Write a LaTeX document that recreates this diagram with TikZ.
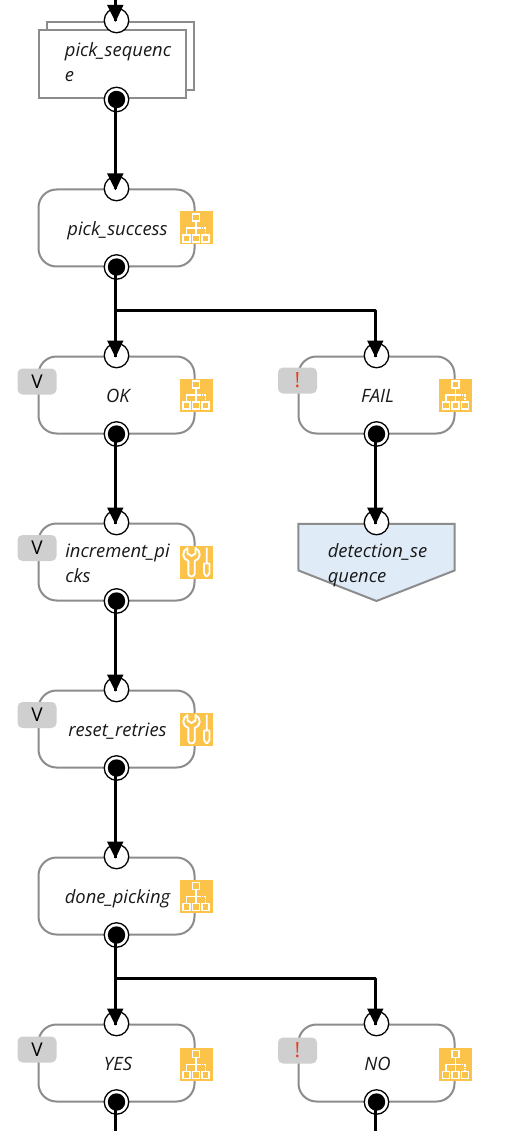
\documentclass[tikz,border=0pt]{standalone}
\usepackage{fontspec}
\setmainfont{Open Sans}
\definecolor{boxline}{HTML}{8C8C8C}
\definecolor{iconfill}{HTML}{FBC34A}
\definecolor{badgefill}{HTML}{CFCFCF}
\definecolor{signalfill}{HTML}{E0EBF8}
\definecolor{alarm}{HTML}{EE3A1C}
\tikzset{
  x=1pt,y=-1pt,
  stepbox/.style={draw=boxline,line width=2pt,fill=white,rounded corners=18pt,minimum width=156pt,minimum height=77pt,inner sep=0pt},
  seqbox/.style={draw=boxline,line width=2pt,fill=white,minimum width=147pt,minimum height=68pt,inner sep=0pt},
  steptext/.style={font=\fontsize{18.4}{25}\selectfont\itshape,align=left,inner sep=0pt,text=black!90,anchor=base},
  inport/.style={circle,draw=black,line width=1.3pt,fill=white,minimum size=24.5pt,inner sep=0pt},
  outport/.style={circle,draw=black,line width=1.3pt,fill=white,minimum size=24.5pt,inner sep=0pt,path picture={\fill[black] (path picture bounding box.center) circle[radius=8.7pt];}},
  badge/.style={fill=badgefill,rounded corners=5pt,minimum width=39pt,minimum height=26pt,inner sep=0pt,font=\fontsize{19}{20}\selectfont},
  link/.style={line width=3pt,draw=black},
  iconbg/.style={fill=iconfill,minimum size=33pt,inner sep=0pt},
  iconline/.style={draw=white,line width=1.2pt},
  toolline/.style={draw=white,line width=1.9pt,line join=round},
}
\newcommand{\arrowtip}[1]{\fill[black] ([shift={(-8.5,-16)}]#1) -- ([shift={(8,-16)}]#1) -- ([shift={(0,1)}]#1) -- cycle;}
\newcommand{\alarmmark}{\textcolor{alarm}{\fontsize{21}{20}\selectfont !}}
% name, centre x, centre y
\newcommand{\orgicon}[3]{%
  \node[iconbg] (#1) at (#2,#3) {};
  \begin{scope}[shift={(#2,#3)}]
    \draw[iconline] (-3.5,-14) rectangle (3.5,-7);
    \draw[iconline] (0,-7) -- (0,7) (-9.5,7) -- (-9.5,0) -- (4,0);
    \draw[iconline,densely dotted] (4,0) -- (9.5,0) -- (9.5,7);
    \draw[iconline] (-13,7) rectangle (-6,14) (-3.5,7) rectangle (3.5,14) (6,7) rectangle (13,14);
  \end{scope}}
\newcommand{\toolicon}[3]{%
  \node[iconbg] (#1) at (#2,#3) {};
  \begin{scope}[shift={(#2,#3)}]
    \draw[toolline] (-8.5,-14) .. controls (-14.5,-11) and (-14,-3) .. (-7.7,-1) -- (-7.7,11.5) .. controls (-7.7,15.5) and (-1.3,15.5) .. (-1.3,11.5) -- (-1.3,-1) .. controls (5,-3) and (5.5,-11) .. (-0.5,-14) -- (-0.5,-8.5) -- (-4.5,-6) -- (-8.5,-8.5) -- cycle;
    \draw[toolline] (10.7,-14.5) -- (10.7,1.5) (8,1.5) -- (13.5,1.5) -- (13.5,11) -- (11.5,14) -- (10,14) -- (8,11) -- cycle;
  \end{scope}}
\newcommand{\stepnode}[6]{% name, centre x, top y, label, text x, last baseline offset
  \node[stepbox] (#1) at (#2,#3+38.5) {};
  \node[steptext] (#1-text) at (#5,#3+#6) {#4};
  \node[inport] (#1-in) at (#2,#3-1) {};
  \node[outport] (#1-out) at (#2,#3+77.5) {};
}
\begin{document}
\begin{tikzpicture}
\useasboundingbox (0,0) rectangle (515,1131);
\fill[white] (0,0) rectangle (515,1131);
\begin{scope}[yshift=-0.5pt]
% pick_sequence
\node[seqbox] (seqback) at (120.5,56) {};
\node[seqbox] (seq) at (112,64) {};
\node[steptext] (seq-text) at (118,81) {pick\_sequenc\\e};
\node[inport] (seq-in) at (116.5,20) {};
\node[outport] (seq-out) at (116.5,99) {};
% steps
\stepnode{succ}{116.5}{189}{pick\_success}{117.5}{46.2}
\stepnode{ok}{116.5}{356}{OK}{118}{45.7}
\stepnode{fail}{376.5}{356}{FAIL}{377.5}{45.7}
\stepnode{inc}{116.5}{523}{increment\_pi\\cks}{117.5}{58.7}
\stepnode{reset}{116.5}{690}{reset\_retries}{117.5}{46.2}
\stepnode{done}{116.5}{857}{done\_picking}{117.5}{46.2}
\stepnode{yes}{116.5}{1024}{YES}{118}{46.2}
\stepnode{no}{376.5}{1024}{NO}{377.5}{46.2}
% detection_sequence
\node[inner sep=0pt,minimum width=156pt,minimum height=77pt] (det) at (376.5,562) {};
\draw[draw=boxline,line width=2pt,fill=signalfill] (det.north west) -- (det.north east) -- (454.5,570) -- (376.5,600.5) -- (298.5,570) -- cycle;
\node[steptext] (det-text) at (377.5,581.5) {detection\_se\\quence};
\node[inport] (det-in) at (376.5,522) {};
% badges
\node[badge] (ok-b) at (37,381) {V};
\node[badge] (fail-b) at (297.5,380) {\alarmmark};
\node[badge] (inc-b) at (37,547.5) {V};
\node[badge] (reset-b) at (37,714.5) {V};
\node[badge] (yes-b) at (37,1049) {V};
\node[badge] (no-b) at (297.5,1050) {\alarmmark};
% icons
\orgicon{succ-i}{196}{227.5}
\orgicon{ok-i}{196}{394.5}
\orgicon{fail-i}{455.5}{394.5}
\toolicon{inc-i}{196}{561.5}
\toolicon{reset-i}{196}{728.5}
\orgicon{done-i}{196}{896}
\orgicon{yes-i}{196}{1064}
\orgicon{no-i}{455.5}{1064}
% connectors
\coordinate (topfree) at (115.5,0);
\coordinate (bot1) at (115.5,1131);
\coordinate (bot2) at (375.5,1131);
\coordinate (tip0) at (115.5,20.5);
\draw[link] (topfree) -- (tip0);
\arrowtip{tip0}
\foreach \a/\b in {seq-out/succ-in,succ-out/ok-in,ok-out/inc-in,inc-out/reset-in,reset-out/done-in,done-out/yes-in,fail-out/det-in}{
  \coordinate (t) at ([shift={(-1,1)}]\b.center);
  \draw[link] ([shift={(-1,0)}]\a.center) -- (t);
  \arrowtip{t}
}
\foreach \a/\b/\y in {succ-out/fail-in/310,done-out/no-in/978}{
  \coordinate (t) at ([shift={(-1,1)}]\b.center);
  \coordinate (s) at ([shift={(-1,0)}]\a.center);
  \coordinate (branch) at (0,\y);
  \draw[link,line join=round] (s) -- (s |- branch) -- (t |- branch) -- (t);
  \arrowtip{t}
}
\draw[link] ([shift={(-1,0)}]yes-out.center) -- (bot1);
\draw[link] ([shift={(-1,0)}]no-out.center) -- (bot2);
\end{scope}
\end{tikzpicture}
\end{document}
